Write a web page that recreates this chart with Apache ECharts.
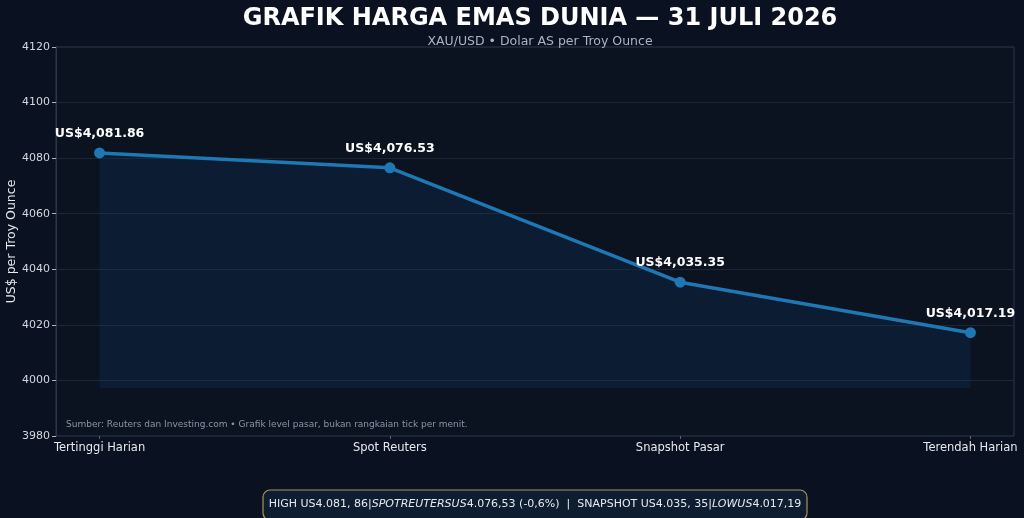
<!DOCTYPE html>
<html>
<head>
<meta charset="utf-8">
<script src="https://cdn.jsdelivr.net/npm/echarts@6/dist/echarts.min.js"></script>
<style>
  html, body { margin: 0; padding: 0; background: #0a1120; }
  #chart { width: 1024px; height: 518px; }
</style>
</head>
<body>
<div id="chart"></div>
<script>
	'use strict';

	// data
	var categories = ['Tertinggi Harian', 'Spot Reuters', 'Snapshot Pasar', 'Terendah Harian'];
	var prices = [4081.86, 4076.53, 4035.35, 4017.19];
	var yTicks = [3980, 4000, 4020, 4040, 4060, 4080, 4100, 4120];

	var fillBase = Math.min.apply(null, prices) - 20;

	function fmtUsd(v) {
		return 'US$' + v.toLocaleString('en-US', { minimumFractionDigits: 2, maximumFractionDigits: 2 });
	}

	var points = prices.map(function (v, i) { return [i, v]; });
	var catPos = categories.map(function (c, i) { return i; });

	var chart = echarts.init(document.getElementById('chart'), null, { renderer: 'canvas' });
	var option = {
		backgroundColor: '#0a1120',
		textStyle: { fontFamily: 'DejaVu Sans' },
		title: [
			{
				text: 'GRAFIK HARGA EMAS DUNIA — 31 JULI 2026',
				left: 535, top: 2, textAlign: 'center',
				textStyle: { color: '#ffffff', fontSize: 24, fontWeight: 'bold', fontFamily: 'DejaVu Sans' }
			},
			{
				text: 'XAU/USD • Dolar AS per Troy Ounce',
				left: 535, top: 30, textAlign: 'center',
				textStyle: { color: '#aab4c2', fontSize: 12.5, fontWeight: 'normal', fontFamily: 'DejaVu Sans' }
			}
		],
		grid: {
			left: 56,
			right: 10,
			top: 47,
			bottom: 82,
			outerBoundsMode: 'none',
			containLabel: false,
			show: true,
			backgroundColor: '#0b1220',
			borderColor: '#2c3848',
			borderWidth: 1
		},
		xAxis: {
			type: 'value',
			min: -0.15,
			max: 3.15,
			axisLine: { show: false },
			axisTick: { show: true, length: 3, customValues: catPos, lineStyle: { color: '#5a6676' } },
			splitLine: { show: false },
			axisLabel: {
				color: '#e6e9ee',
				fontSize: 11.5,
				margin: 6,
				customValues: catPos,
				formatter: function (v) {
					return categories[Math.round(v)] || '';
				}
			}
		},
		yAxis: {
			type: 'value',
			min: yTicks[0],
			max: yTicks[yTicks.length - 1],
			interval: 20,
			name: 'US$ per Troy Ounce',
			nameLocation: 'middle',
			nameGap: 38,
			nameMoveOverlap: false,
			nameTextStyle: { color: '#e6e9ee', fontSize: 12.5 },
			axisLine: { show: true, onZero: false, lineStyle: { color: '#2c3848' } },
			axisTick: { show: true, length: 4, lineStyle: { color: '#aab4c2' } },
			axisLabel: {
				color: '#d3d8df', fontSize: 11, margin: 6,
				formatter: function (v) { return String(v); }
			},
			splitLine: { show: true, lineStyle: { color: '#1c2636', width: 1 } }
		},
		series: [
			{
				name: 'harga',
				type: 'line',
				data: points,
				symbol: 'circle',
				symbolSize: 11,
				lineStyle: { color: '#1f77b4', width: 3.5 },
				itemStyle: { color: '#1f77b4' },
				areaStyle: { color: 'rgba(20, 70, 130, 0.28)', origin: fillBase },
				label: {
					show: true,
					position: 'top',
					distance: 7,
					color: '#ffffff',
					fontSize: 12.5,
					fontWeight: 'bold',
					formatter: function (p) { return fmtUsd(p.value[1]); }
				},
				z: 3
			}
		],
		graphic: [
			{
				type: 'text',
				left: 66,
				top: 420,
				style: {
					text: 'Sumber: Reuters dan Investing.com • Grafik level pasar, bukan rangkaian tick per menit.',
					fill: '#8a96a6',
					font: '9px "DejaVu Sans"'
				}
			},
			{
				type: 'rect',
				shape: { x: 263, y: 490, width: 544, height: 30, r: 7 },
				style: { fill: '#0e1e30', stroke: '#a8935a', lineWidth: 1.2 }
			},
			{
				type: 'text',
				x: 535,
				y: 504,
				style: {
					text: '{n|HIGH US4.081, 86|}{i|SPOTREUTERSUS}{n|4.076,53 (-0,6%)  |  SNAPSHOT US4.035, 35|}{i|LOWUS}{n|4.017,19}',
					align: 'center',
					verticalAlign: 'middle',
					rich: {
						n: { fill: '#e6e9ee', font: '11px "DejaVu Sans"' },
						i: { fill: '#e6e9ee', font: 'italic 11px "DejaVu Sans"' }
					}
				}
			}
		]
	};
	chart.setOption(option);
	window.addEventListener('resize', function () {
		chart.resize();
	});
</script>
</body>
</html>
